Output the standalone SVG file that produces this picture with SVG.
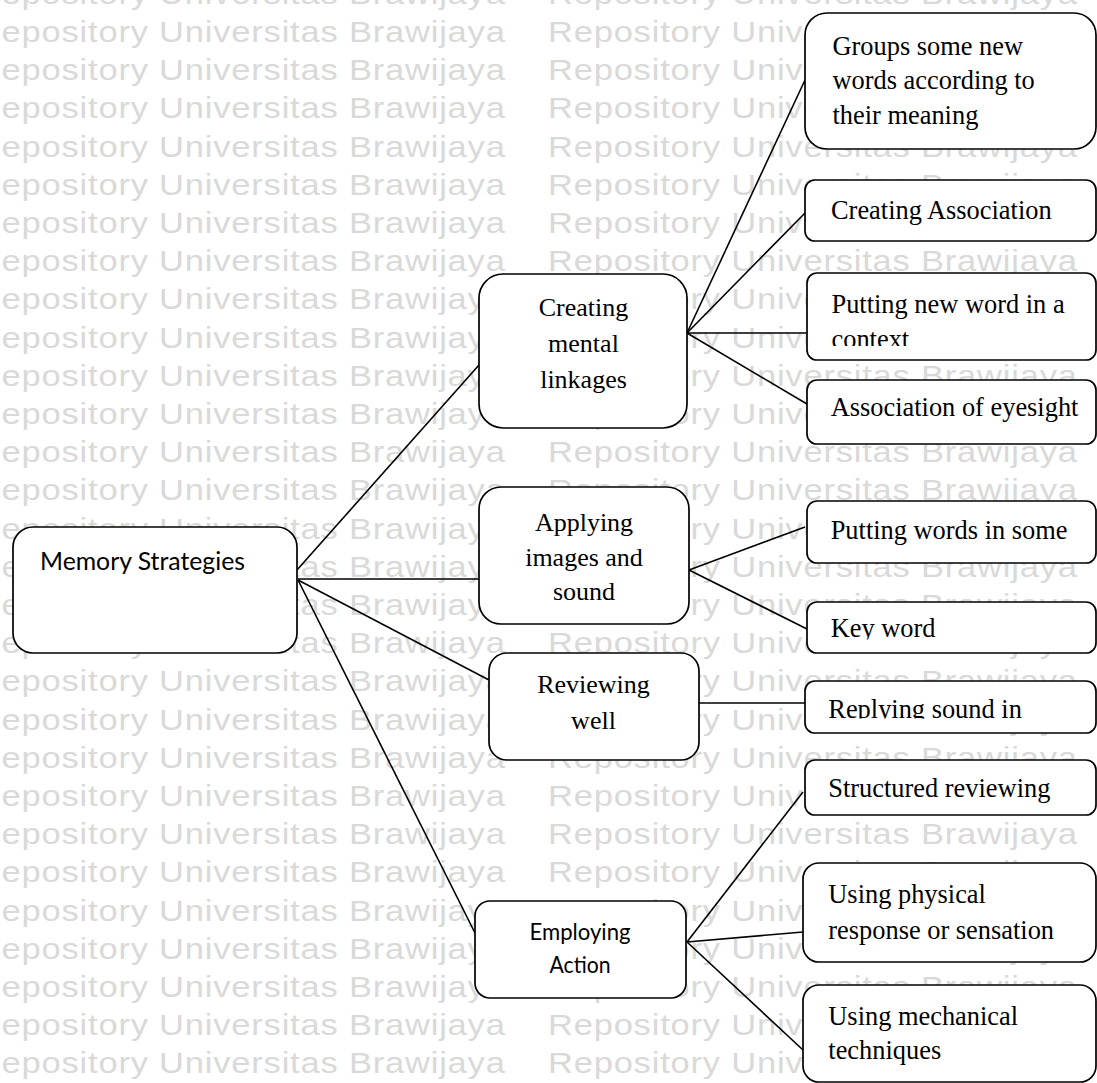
<svg xmlns="http://www.w3.org/2000/svg" xmlns:xlink="http://www.w3.org/1999/xlink" width="1097" height="1083" viewBox="0 0 1097 1083">
  <style>
    .wm { font-family: "Liberation Sans", Arial, sans-serif; font-size: 30px; fill: #d9d9d9; }
    .box { fill: #ffffff; stroke: #000000; stroke-width: 1.7; }
    .link { stroke: #000000; stroke-width: 1.6; fill: none; }
    .serif { font-family: "Liberation Serif", "Times New Roman", serif; font-size: 26px; fill: #000000; }
    .serif-r { font-family: "Liberation Serif", "Times New Roman", serif; font-size: 26.4px; fill: #000000; }
    .sans { font-family: Lato, "Open Sans", sans-serif; fill: #000000; }
    .mid { text-anchor: middle; }
  </style>
  <defs>
    <!-- one line of the repeating background stamp -->
    <g id="wmrow">
      <text class="wm" transform="scale(1.15,1)" letter-spacing="0.7"><tspan x="-21" y="0">Repository Universitas Brawijaya</tspan><tspan x="476.5" y="0">Repository Universitas Brawijaya</tspan></text>
    </g>
    <clipPath id="clipContext"><rect x="805" y="273" width="292" height="73"/></clipPath>
    <clipPath id="clipKey"><rect x="805" y="602" width="292" height="37.5"/></clipPath>
    <clipPath id="clipReply"><rect x="805" y="681" width="292" height="37.5"/></clipPath>
  </defs>

  <rect width="1097" height="1083" fill="#ffffff"/>

  <g id="background-stamp">
    <use xlink:href="#wmrow" y="3.8"/>
    <use xlink:href="#wmrow" y="42"/>
    <use xlink:href="#wmrow" y="80.2"/>
    <use xlink:href="#wmrow" y="118.4"/>
    <use xlink:href="#wmrow" y="156.6"/>
    <use xlink:href="#wmrow" y="194.8"/>
    <use xlink:href="#wmrow" y="233"/>
    <use xlink:href="#wmrow" y="271.2"/>
    <use xlink:href="#wmrow" y="309.4"/>
    <use xlink:href="#wmrow" y="347.6"/>
    <use xlink:href="#wmrow" y="385.8"/>
    <use xlink:href="#wmrow" y="424"/>
    <use xlink:href="#wmrow" y="462.2"/>
    <use xlink:href="#wmrow" y="500.4"/>
    <use xlink:href="#wmrow" y="538.6"/>
    <use xlink:href="#wmrow" y="576.8"/>
    <use xlink:href="#wmrow" y="615"/>
    <use xlink:href="#wmrow" y="653.2"/>
    <use xlink:href="#wmrow" y="691.4"/>
    <use xlink:href="#wmrow" y="729.6"/>
    <use xlink:href="#wmrow" y="767.8"/>
    <use xlink:href="#wmrow" y="806"/>
    <use xlink:href="#wmrow" y="844.2"/>
    <use xlink:href="#wmrow" y="882.4"/>
    <use xlink:href="#wmrow" y="920.6"/>
    <use xlink:href="#wmrow" y="958.8"/>
    <use xlink:href="#wmrow" y="997"/>
    <use xlink:href="#wmrow" y="1035.2"/>
    <use xlink:href="#wmrow" y="1073.4"/>
  </g>

  <g id="connectors">
    <line class="link" x1="297" y1="570" x2="479" y2="365"/>
    <line class="link" x1="298" y1="579" x2="479" y2="579"/>
    <line class="link" x1="298" y1="580" x2="489" y2="680"/>
    <line class="link" x1="298" y1="580" x2="475" y2="933"/>
    <line class="link" x1="687" y1="333" x2="805" y2="80"/>
    <line class="link" x1="687" y1="333" x2="805" y2="213"/>
    <line class="link" x1="687" y1="333" x2="807" y2="333"/>
    <line class="link" x1="687" y1="333" x2="807" y2="404"/>
    <line class="link" x1="689" y1="570" x2="805" y2="527"/>
    <line class="link" x1="689" y1="570" x2="807" y2="629"/>
    <line class="link" x1="699" y1="703" x2="805" y2="703"/>
    <line class="link" x1="687" y1="942" x2="803" y2="792"/>
    <line class="link" x1="687" y1="942" x2="803" y2="932"/>
    <line class="link" x1="687" y1="942" x2="803" y2="1050"/>
  </g>

  <g id="memory-strategies">
    <rect class="box" x="13" y="527" width="284" height="126" rx="20"/>
    <text class="sans" x="40" y="570" font-size="25" textLength="205" lengthAdjust="spacingAndGlyphs">Memory Strategies</text>
  </g>

  <g id="creating-mental-linkages">
    <rect class="box" x="479" y="274" width="208" height="154" rx="24"/>
    <text class="serif mid" x="583.5" y="316">Creating</text>
    <text class="serif mid" x="583.5" y="351.7">mental</text>
    <text class="serif mid" x="583.5" y="387.7">linkages</text>
  </g>

  <g id="applying-images-and-sound">
    <rect class="box" x="479" y="487" width="210" height="137" rx="22"/>
    <text class="serif mid" x="584" y="530.7">Applying</text>
    <text class="serif mid" x="584" y="565.7">images and</text>
    <text class="serif mid" x="584" y="600">sound</text>
  </g>

  <g id="reviewing-well">
    <rect class="box" x="489" y="653" width="210" height="107" rx="18"/>
    <text class="serif mid" x="593.5" y="693.3">Reviewing</text>
    <text class="serif mid" x="593.5" y="729.3">well</text>
  </g>

  <g id="employing-action">
    <rect class="box" x="475" y="901" width="211" height="97" rx="15"/>
    <text class="sans mid" x="580" y="940" font-size="23.5" textLength="101" lengthAdjust="spacingAndGlyphs">Employing</text>
    <text class="sans mid" x="580" y="972.7" font-size="23.5" textLength="61" lengthAdjust="spacingAndGlyphs">Action</text>
  </g>

  <g id="groups-new-words">
    <rect class="box" x="805" y="13" width="291" height="136" rx="22"/>
    <text class="serif-r" x="832.5" y="55">Groups some new</text>
    <text class="serif-r" x="832.5" y="89.3">words according to</text>
    <text class="serif-r" x="832.5" y="124">their meaning</text>
  </g>

  <g id="creating-association">
    <rect class="box" x="805" y="180" width="291" height="61" rx="10"/>
    <text class="serif-r" x="831" y="219">Creating Association</text>
  </g>

  <g id="putting-new-word">
    <rect class="box" x="807" y="273" width="289" height="87" rx="10"/>
    <g clip-path="url(#clipContext)">
      <text class="serif-r" x="831.5" y="313.3">Putting new word in a</text>
      <text class="serif-r" x="831.5" y="348">context</text>
    </g>
  </g>

  <g id="association-of-eyesight">
    <rect class="box" x="807" y="380" width="289" height="64" rx="10"/>
    <text class="serif-r" x="830.7" y="416">Association of eyesight</text>
  </g>

  <g id="putting-words">
    <rect class="box" x="807" y="501" width="289" height="62" rx="10"/>
    <text class="serif-r" x="830.7" y="539.3">Putting words in some</text>
  </g>

  <g id="key-word">
    <rect class="box" x="807" y="602" width="289" height="51" rx="10"/>
    <text class="serif-r" x="830.7" y="636.7" clip-path="url(#clipKey)">Key word</text>
  </g>

  <g id="replying-sound">
    <rect class="box" x="805" y="681" width="291" height="52" rx="10"/>
    <text class="serif-r" x="828.3" y="717.5" clip-path="url(#clipReply)">Replying sound in</text>
  </g>

  <g id="structured-reviewing">
    <rect class="box" x="805" y="760" width="291" height="55" rx="10"/>
    <text class="serif-r" x="828.3" y="796.7">Structured reviewing</text>
  </g>

  <g id="physical-response">
    <rect class="box" x="803" y="863" width="293" height="99" rx="16"/>
    <text class="serif-r" x="828.3" y="903.3">Using physical</text>
    <text class="serif-r" x="828.3" y="939.3">response or sensation</text>
  </g>

  <g id="mechanical-techniques">
    <rect class="box" x="803" y="985" width="293" height="97" rx="16"/>
    <text class="serif-r" x="828.3" y="1025">Using mechanical</text>
    <text class="serif-r" x="828.3" y="1059.3">techniques</text>
  </g>
</svg>
